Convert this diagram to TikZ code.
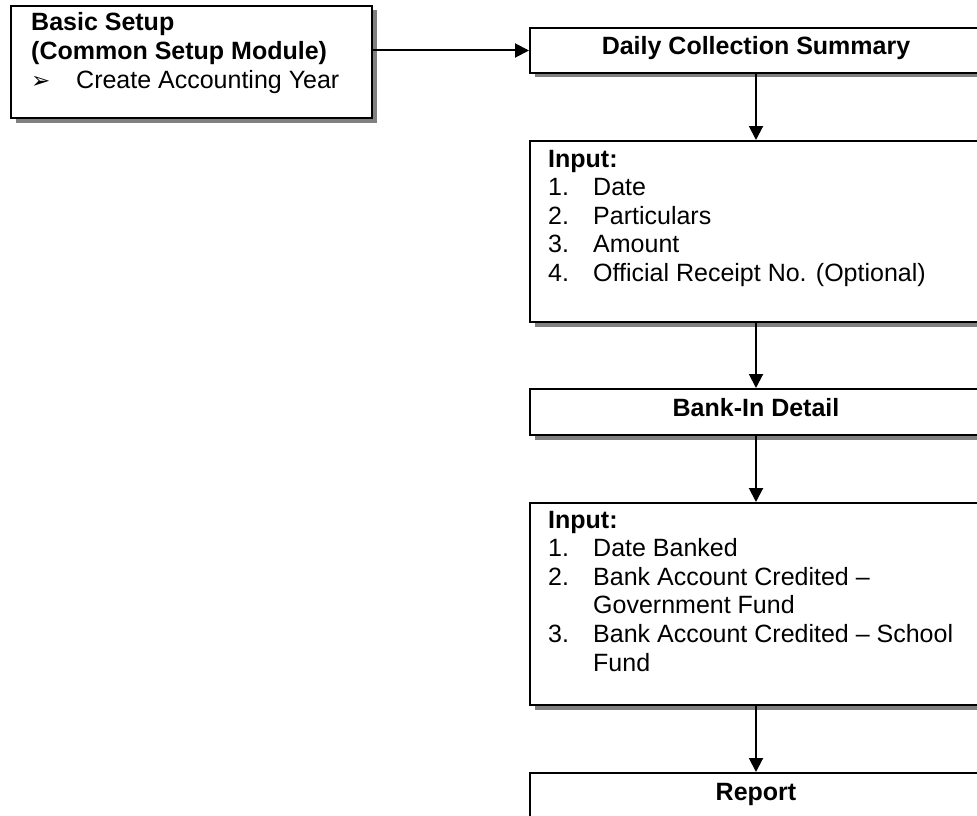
\documentclass[tikz,border=0pt]{standalone}
\usepackage{fontspec}
\setmainfont{Liberation Sans}
\newfontfamily\dejavu{DejaVu Sans}
\usetikzlibrary{arrows.meta,shadows}
\begin{document}
\begin{tikzpicture}[x=1pt,y=-1pt,
  box/.style={draw=black, line width=2pt, fill=white, inner sep=0pt, anchor=north west,
    drop shadow={shadow xshift=4.5pt, shadow yshift=-4.5pt, fill=black!50, opacity=1}},
  wide/.style={box, minimum width=452pt},
  titlebox/.style={wide, text height=27pt, text depth=18pt, font=\fontsize{25}{28.5}\selectfont\bfseries},
  txt/.style={anchor=base west, inner sep=0pt, font=\fontsize{25}{28.6}\selectfont},
  arr/.style={line width=2pt, -{Triangle[length=14pt,width=14pt]}}
]
\useasboundingbox (0,0) rectangle (977,816);
\clip (0,0) rectangle (977,816);

% boxes
\node[box, minimum width=361pt, minimum height=112pt] (bs) at (10,5) {};
\node[txt] (bst) at (31,31) {\begin{tabular}[t]{@{}p{45pt}@{}l@{}}
\multicolumn{2}{@{}l@{}}{\textbf{Basic Setup}}\\
\multicolumn{2}{@{}l@{}}{\textbf{(Common Setup Module)}}\\
{\dejavu\fontsize{23}{26}\selectfont ➢} & Create Accounting Year
\end{tabular}};

\node[titlebox] (dcs) at (529,27) {Daily Collection Summary};

\node[wide, minimum height=181pt] (in1) at (529,140) {};
\node[txt] (in1t) at (548,167) {\begin{tabular}[t]{@{}p{45pt}@{}l@{}}
\multicolumn{2}{@{}l@{}}{\textbf{Input:}}\\
1. & Date\\
2. & Particulars\\
3. & Amount\\
4. & Official Receipt No. (Optional)
\end{tabular}};

\node[titlebox, text depth=19pt] (bid) at (529,388) {Bank-In Detail};

\node[wide, minimum height=202pt] (in2) at (529,502) {};
\node[txt] (in2t) at (548,528) {\begin{tabular}[t]{@{}p{45pt}@{}l@{}}
\multicolumn{2}{@{}l@{}}{\textbf{Input:}}\\
1. & Date Banked\\
2. & Bank Account Credited --\\
 & Government Fund\\
3. & Bank Account Credited -- School\\
 & Fund
\end{tabular}};

\node[titlebox, text depth=70pt] (rep) at (529,772) {Report};

% connectors
\draw[arr] (bs.east |- dcs.west) -- (dcs.west);
\draw[arr] (dcs.south) -- (in1.north);
\draw[arr] (in1.south) -- (bid.north);
\draw[arr] (bid.south) -- (in2.north);
\draw[arr] (in2.south) -- (rep.north);
\end{tikzpicture}
\end{document}
